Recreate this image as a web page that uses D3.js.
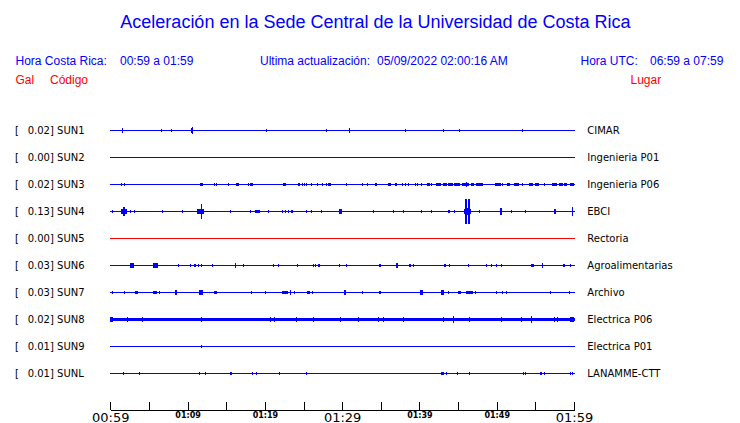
<!DOCTYPE html>
<html><head><meta charset="utf-8">
<script src="https://cdn.jsdelivr.net/npm/d3@7"></script>
<style>body{margin:0;background:#fff}svg{display:block}</style>
</head><body>
<script>
// ---- data ----
const title = "Aceleración en la Sede Central de la Universidad de Costa Rica";
const headerLabels = ["Hora Costa Rica:", "00:59 a 01:59", "Ultima actualización:", "05/09/2022 02:00:16 AM", "Hora UTC:", "06:59 a 07:59"];
const columnLabels = ["Gal", "Código", "Lugar"];
const stations = ["SUN1","SUN2","SUN3","SUN4","SUN5","SUN6","SUN7","SUN8","SUN9","SUNL"];
const places = ["CIMAR","Ingenieria P01","Ingenieria P06","EBCI","Rectoria","Agroalimentarias","Archivo","Electrica P06","Electrica P01","LANAMME-CTT"];
const peakGal = [0.02,0.00,0.02,0.13,0.00,0.03,0.03,0.02,0.01,0.01];
const traceColors = ["blue","blue","blue","blue","red","blue","blue","blue","blue","blue"];
const baseNoiseGal = [0,0,0,0,0,0,0,0.016,0,0];
const tickMinutes = [0,5,10,15,20,25,30,35,40,45,50,55,60];
const tickLabels = ["00:59","","01:09","","01:19","","01:29","","01:39","","01:49","","01:59"];
const majorTicks = ["00:59","01:29","01:59"];
// events per station: [minute after 00:59, duration (min), amplitude (Gal)]
const ev_SUN1 = [[1.55,0,0.016],[6.65,0,0.011],[7.95,0,0.011],[10.61,0.3,0.018],[10.61,0,0.03],[20.19,0,0.008],[27.95,0,0.011],[30.93,0,0.018],[38.17,0,0.011],[43.09,0,0.011],[45.16,0,0.008],[53.31,0,0.011]];
const ev_SUN2 = [];
const ev_SUN3 = [[1.42,0,0.008],[1.81,0,0.011],[11.78,0.35,0.012],[13.46,0,0.011],[13.72,0,0.011],[15.32,0.2,0.008],[16.36,0.3,0.01],[16.65,0,0.011],[17.86,0,0.011],[18.25,0.3,0.012],[22.52,0.35,0.012],[24.38,0.25,0.012],[24.9,0,0.011],[25.1,0,0.011],[25.41,0,0.008],[26.06,0,0.008],[26.79,0,0.008],[27.43,0,0.011],[27.95,0,0.008],[28.34,0.35,0.012],
  [30.5,0,0.011],[32.57,0.1,0.008],[33.26,0,0.008],[34.38,0.15,0.011],[36.13,0.4,0.011],[36.97,0.35,0.011],[37.84,0,0.011],[38.17,0,0.011],[38.56,0,0.011],[39.43,0,0.011],[39.73,0,0.011],[40.29,0,0.011],[41.2,0.35,0.01],[41.59,0,0.011],
  [42.5,0.6,0.01],[43.3,0.5,0.01],[44.0,0.7,0.01],[44.9,0.8,0.01],[45.8,0.5,0.01],[46.03,0,0.026],[46.3,0.3,0.012],[46.9,0.4,0.01],[47.5,0.3,0.01],[48.0,0.5,0.01],
  [49.91,0.2,0.011],[50.3,0.4,0.01],[50.78,0,0.011],[51.5,0.4,0.01],[52.6,0.6,0.01],[53.36,0,0.011],[54.48,0.5,0.01],[55.25,0.5,0.01],[56.12,0,0.011],[57.5,0.6,0.01],[58.3,0.6,0.01],[58.9,0.3,0.01],[59.7,0.5,0.01]];
const ev_SUN4 = [[0.22,0,0.011],[1.77,0.85,0.021],[1.77,0.3,0.037],[2.59,0,0.011],[3.11,0,0.008],[6.78,0,0.011],[9.32,0,0.008],[11.7,0.85,0.022],[11.78,0,0.079],[15.53,0,0.008],[18.17,0,0.011],[19.05,0.7,0.014],[20.45,0,0.008],[22.31,0,0.011],[22.61,0,0.011],[23.03,0,0.011],[23.51,0.15,0.011],[25.36,0,0.008],[26.06,0,0.011],[27.36,0,0.008],[29.76,0.4,0.021],
  [34.03,0,0.008],[36.62,0,0.008],[37.91,0,0.008],[40.24,0,0.011],[41.54,0,0.011],[43.83,0.15,0.011],[44.51,0,0.008],[46.2,0.9,0.02],[46.2,0.5,0.035],[45.98,0,0.13],[46.36,0,0.123],[47.75,0,0.011],[50.56,0.2,0.03],[51.89,0,0.008],[53.70,0,0.008],[57.58,0.3,0.018],[59.83,0.2,0.042]];
const ev_SUN5 = [];
const ev_SUN6 = [[2.77,0.48,0.026],[5.88,0.65,0.016],[5.56,0,0.026],[8.8,0,0.011],[10.4,0,0.011],[10.96,0.25,0.012],[11.39,0,0.011],[11.83,0,0.008],[13.2,0,0.011],[16.17,0,0.021],[17.21,0,0.008],[21.09,0,0.011],[21.74,0,0.011],[24.2,0,0.011],[26.27,0,0.011],[26.49,0,0.011],[27.01,0.25,0.012],[29.72,0,0.011],
  [30.59,0,0.008],[34.9,0.2,0.011],[37.14,0.3,0.016],[38.78,0.2,0.012],[39.21,0,0.011],[43.31,0.25,0.014],[43.87,0,0.011],[46.33,0,0.011],[48.71,0,0.011],[49.35,0,0.011],[50.0,0,0.008],[50.65,0,0.008],[54.61,0.35,0.012],[55.9,0,0.026],[58.71,0.3,0.012],[59.49,0,0.011]];
const ev_SUN7 = [[0.22,0,0.011],[1.81,0,0.008],[3.42,0.4,0.012],[5.78,0.45,0.014],[6.43,0,0.011],[8.46,0.25,0.021],[11.78,0.5,0.022],[13.64,0.35,0.012],[18.3,0,0.008],[20.11,0,0.008],[22.6,0.8,0.014],[23.29,0,0.026],[23.81,0,0.011],[25.62,0.35,0.012],[26.14,0,0.011],
  [30.37,0.35,0.022],[32.66,0,0.011],[34.9,0.3,0.012],[40.24,0.35,0.018],[43.0,0.4,0.022],[43.74,0,0.008],[45.21,0.45,0.014],[46.5,0.9,0.014],[47.19,0,0.011],[50.0,0,0.008],[50.73,0,0.011],[51.29,0,0.008],[56.9,0,0.008],[59.36,0,0.011]];
const ev_SUN8 = [[0.2,0.4,0.024],[2.22,0,0.022],[4.14,0,0.022],[11.78,0,0.026],[20.76,0,0.022],[21.31,0,0.022],[24.07,0,0.022],[26.27,0,0.022],[29.76,0,0.022],[32.09,0,0.022],[34.68,0,0.022],[35.33,0,0.022],[37.91,0,0.022],[43.09,0,0.022],[44.47,0,0.03],[46.46,0,0.026],[50.65,0,0.022],[53.24,0,0.026],[54.53,0,0.03],[57.54,0,0.026],[57.84,0,0.026],[59.7,0.5,0.02]];
const ev_SUN9 = [[11.78,0,0.011]];
const ev_SUNL = [[1.68,0,0.011],[3.75,0,0.011],[11.52,0,0.011],[12.29,0,0.011],[15.62,0.2,0.014],[18.37,0,0.008],[18.94,0,0.011],[21.87,0,0.008],[25.36,0,0.008],[42.99,0.3,0.014],[43.44,0,0.008],[44.9,0,0.008],[46.46,0,0.008],[53.44,0,0.008],[53.75,0,0.008],[55.69,0.25,0.014],[56.12,0,0.008],[59.49,0,0.008],[59.78,0,0.011]];
const events = [ev_SUN1,ev_SUN2,ev_SUN3,ev_SUN4,ev_SUN5,ev_SUN6,ev_SUN7,ev_SUN8,ev_SUN9,ev_SUNL];

// ---- drawing ----
const W = 740, H = 423;
const BLUE = "#0000ff", RED = "#ff0000";
const svg = d3.select("body").append("svg").attr("width", W).attr("height", H);

const x = d3.scaleLinear().domain([0, 60]).range([110.3, 574]);
const y = d3.scalePoint().domain(stations).range([130.5, 373.5]);
const amp = d3.scaleLinear().domain([0, 0.13]).range([0, 12.3]);

const sans = "'Liberation Sans', Arial, sans-serif";
const dv = "'DejaVu Sans', sans-serif";

svg.append("text").attr("x", 375.5).attr("y", 28).attr("text-anchor", "middle")
  .attr("font-family", sans).attr("font-size", 18).attr("fill", BLUE).text(title);

const hx = [15.5, 120, 260, 377, 580.5, 650];
svg.selectAll("text.hdr").data(headerLabels).join("text").attr("class", "hdr")
  .attr("x", (d, i) => hx[i]).attr("y", 65).attr("font-family", sans).attr("font-size", 12)
  .attr("fill", BLUE).text(d => d);

const cx = [15.5, 50, 630.5];
svg.selectAll("text.col").data(columnLabels).join("text").attr("class", "col")
  .attr("x", (d, i) => cx[i]).attr("y", 84).attr("font-family", sans).attr("font-size", 12)
  .attr("fill", RED).text(d => d);

const rows = svg.selectAll("g.row").data(stations).join("g").attr("class", "row")
  .attr("transform", d => `translate(0,${y(d)})`);

rows.append("text").attr("x", 15).attr("y", 3.5).attr("font-family", dv).attr("font-size", 10)
  .attr("fill", "#000").text("[");
rows.append("text").attr("x", 27.7).attr("y", 3.5).attr("font-family", dv).attr("font-size", 10)
  .attr("fill", "#000").text((d, i) => `${peakGal[i].toFixed(2)}] ${d}`);
rows.append("text").attr("x", 587.3).attr("y", 3.5).attr("font-family", dv).attr("font-size", 10)
  .attr("fill", "#000").text((d, i) => places[i]);

rows.each(function (d, i) {
  const g = d3.select(this);
  const col = traceColors[i] === "red" ? RED : BLUE;
  const bn = amp(baseNoiseGal[i]);
  if (bn > 0) {
    g.append("rect").attr("x", x(0)).attr("y", -bn).attr("width", x(60) - x(0) + 1).attr("height", 2 * bn)
      .attr("fill", col).attr("shape-rendering", "crispEdges");
  } else {
    g.append("line").attr("x1", x(0)).attr("x2", x(60) + 1).attr("y1", 0).attr("y2", 0)
      .attr("stroke", col).attr("stroke-width", 1).attr("shape-rendering", "crispEdges");
  }
  g.selectAll("rect.ev").data(events[i]).join("rect").attr("class", "ev")
    .attr("x", e => e[1] > 0 ? x(e[0] - e[1] / 2) : x(e[0]) - 0.5)
    .attr("width", e => e[1] > 0 ? Math.max(1, x(e[1]) - x(0)) : (e[2] > 0.1 ? 1.6 : 1))
    .attr("y", e => -Math.max(1, amp(e[2])) - 0.5)
    .attr("height", e => 2 * Math.max(1, amp(e[2])) + 1)
    .attr("fill", col).attr("shape-rendering", "crispEdges");
});

// time axis
const axis = d3.axisBottom(x).tickValues(tickMinutes)
  .tickFormat((d, i) => tickLabels[i]).tickSizeInner(-8).tickSizeOuter(0).tickPadding(3);
const ax = svg.append("g").attr("transform", "translate(0,409.5)").call(axis);
ax.select(".domain").attr("stroke", "#000").attr("shape-rendering", "crispEdges");
ax.selectAll(".tick line").attr("stroke", "#000").attr("shape-rendering", "crispEdges");
ax.selectAll(".tick text").attr("fill", "#000").attr("font-family", dv)
  .attr("font-size", (d, i) => majorTicks.includes(tickLabels[i]) ? 13 : 8)
  .attr("font-weight", (d, i) => majorTicks.includes(tickLabels[i]) ? "normal" : "bold")
  .attr("dy", null)
  .attr("y", (d, i) => majorTicks.includes(tickLabels[i]) ? 12 : 8);
</script>
</body></html>
